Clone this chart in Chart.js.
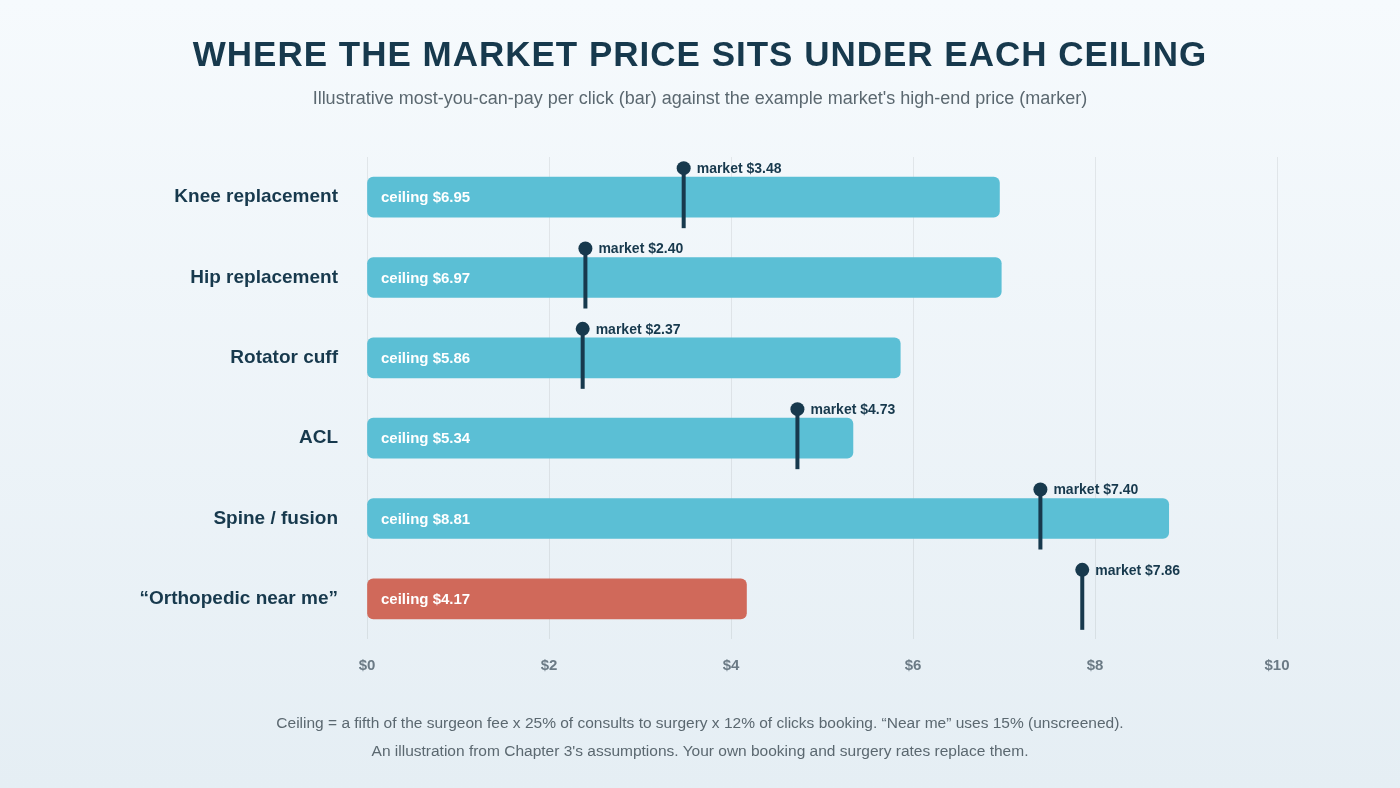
<!DOCTYPE html>
<html><head><meta charset="utf-8">
<script src="https://cdn.jsdelivr.net/npm/chart.js@4"></script>
<style>
html,body{margin:0;padding:0;width:1400px;height:788px;overflow:hidden;background:linear-gradient(#f6fafd,#e5eef4);font-family:"Liberation Sans",Arial,sans-serif}
#t{position:absolute;top:34px;width:100%;text-align:center;font-size:35px;font-weight:bold;color:#17394d;letter-spacing:1px}
#s{position:absolute;top:88px;width:100%;text-align:center;font-size:18px;color:#5b6870}
#f{position:absolute;top:709px;width:100%;text-align:center;font-size:15.5px;color:#5b6870;line-height:28px}
#wrap{position:absolute;left:0;top:0;width:1400px;height:788px}
</style></head><body>
<div id="wrap"><canvas id="c" width="1400" height="788"></canvas></div>
<div id="t">WHERE THE MARKET PRICE SITS UNDER EACH CEILING</div>
<div id="s">Illustrative most-you-can-pay per click (bar) against the example market's high-end price (marker)</div>
<div id="f">Ceiling = a fifth of the surgeon fee x 25% of consults to surgery x 12% of clicks booking. “Near me” uses 15% (unscreened).<br>An illustration from Chapter 3's assumptions. Your own booking and surgery rates replace them.</div>
<script>
const categories=["Knee replacement","Hip replacement","Rotator cuff","ACL","Spine / fusion","“Orthopedic near me”"];
const ceilings=[6.95,6.97,5.86,5.34,8.81,4.17];
const markets=[3.48,2.40,2.37,4.73,7.40,7.86];
const barColors=["#5bbfd5","#5bbfd5","#5bbfd5","#5bbfd5","#5bbfd5","#d0695a"];
const xTicks=[0,2,4,6,8,10];
const dark="#17394d";
const overlay={id:"ov",afterDatasetsDraw(ch){
 const c=ch.ctx,x=ch.scales.x,y=ch.scales.y;
 c.save();
 ceilings.forEach((v,i)=>{
  const yc=y.getPixelForValue(i);
  c.fillStyle="#fff";c.font="bold 15px 'Liberation Sans',Arial";c.textBaseline="middle";c.textAlign="left";
  c.fillText("ceiling $"+v.toFixed(2),x.getPixelForValue(0)+14,yc+1);
  const mx=x.getPixelForValue(markets[i]);
  c.strokeStyle=dark;c.lineWidth=4;c.beginPath();c.moveTo(mx,yc-29);c.lineTo(mx,yc+31);c.stroke();
  c.fillStyle=dark;c.beginPath();c.arc(mx,yc-29,7,0,Math.PI*2);c.fill();
  c.font="bold 14px 'Liberation Sans',Arial";c.fillText("market $"+markets[i].toFixed(2),mx+13,yc-28);
 });
 c.restore();}};
new Chart(document.getElementById("c"),{type:"bar",
 data:{labels:categories,datasets:[{data:ceilings,backgroundColor:barColors,barThickness:40,borderRadius:6,borderSkipped:false}]},
 options:{indexAxis:"y",responsive:false,animation:false,
  layout:{padding:{top:157,right:123,bottom:0,left:0}},
  plugins:{legend:{display:false},tooltip:{enabled:false}},
  scales:{
   x:{min:0,max:10,afterFit(s){s.height=149},afterBuildTicks(s){s.ticks=xTicks.map(v=>({value:v}))},
      ticks:{padding:18,color:"#6b7a85",font:{size:15,weight:"bold",family:"Liberation Sans"},callback:v=>"$"+v},
      grid:{color:"rgba(0,0,0,0.07)",drawTicks:false},border:{display:false}},
   y:{afterFit(s){s.width=367},grid:{display:false},border:{display:false},
      ticks:{padding:21,color:dark,font:{size:19,weight:"bold",family:"Liberation Sans"}}}
  }},plugins:[overlay]});
</script></body></html>
